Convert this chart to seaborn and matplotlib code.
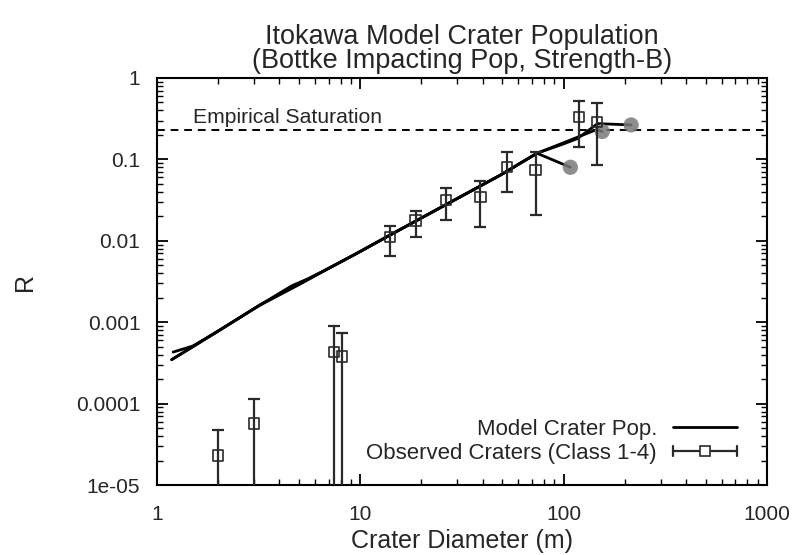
import numpy as np
import pandas as pd
import matplotlib
matplotlib.use("Agg")
import matplotlib.pyplot as plt
import seaborn as sns
from matplotlib.legend_handler import HandlerBase
from matplotlib.lines import Line2D
from matplotlib.container import ErrorbarContainer
from matplotlib.ticker import LogLocator, NullFormatter

# Observed crater counts (Class 1-4): diameter (m), R value, error-bar bounds
obs_diam = [2.0, 3.0, 7.4, 8.1, 14.0, 18.7, 26.5, 39.0, 52.8, 72.8, 119.0, 146.6]
obs_r = [2.3e-5, 5.7e-5, 4.3e-4, 3.8e-4, 0.0112, 0.0178, 0.0317, 0.0348, 0.0813, 0.074, 0.329, 0.29]
obs_r_hi = [4.8e-5, 1.15e-4, 9.0e-4, 7.4e-4, 0.0154, 0.0235, 0.044, 0.055, 0.122, 0.124, 0.526, 0.497]
obs_r_lo = [1e-6, 1e-6, 1e-6, 1e-6, 0.0066, 0.011, 0.018, 0.0149, 0.040, 0.021, 0.141, 0.085]

# Model crater population, three Monte Carlo runs
run1_diam = [1.18, 1.5, 2.0, 3.2, 5.0, 7.0, 9.6, 14, 20, 30, 49, 74, 100, 125, 144, 155]
run1_r = [3.47e-4, 5.0e-4, 7.8e-4, 1.62e-3, 2.94e-3, 4.6e-3, 7.0e-3, 0.01175, 0.0191, 0.0331,
          0.0643, 0.119, 0.160, 0.200, 0.230, 0.220]
run2_diam = [1.2, 1.5, 2.0, 3.2, 4.6, 5.5, 7.0, 9.6, 14, 20, 30, 49, 74, 108]
run2_r = [4.3e-4, 5.1e-4, 7.8e-4, 1.62e-3, 2.8e-3, 3.4e-3, 4.6e-3, 7.0e-3, 0.0118, 0.0191,
          0.0331, 0.0643, 0.119, 0.080]
run3_diam = [1.18, 1.5, 2.0, 3.2, 5.0, 7.0, 9.6, 14, 20, 30, 49, 74, 100, 117, 147, 215]
run3_r = [3.47e-4, 5.0e-4, 7.8e-4, 1.62e-3, 2.9e-3, 4.6e-3, 7.0e-3, 0.01175, 0.0191, 0.0331,
          0.0643, 0.119, 0.155, 0.180, 0.275, 0.265]

# Final state of each run
end_diam = [108, 155, 215]
end_r = [0.080, 0.220, 0.265]

saturation_r = 0.23

x_ticks = [1, 10, 100, 1000]
x_ticklabels = ["1", "10", "100", "1000"]
y_ticks = [1e-5, 1e-4, 1e-3, 1e-2, 1e-1, 1]
y_ticklabels = ["1e-05", "0.0001", "0.001", "0.01", "0.1", "1"]

model = pd.DataFrame({
    "diam": run1_diam + run2_diam + run3_diam,
    "R": run1_r + run2_r + run3_r,
    "run": [1] * len(run1_diam) + [2] * len(run2_diam) + [3] * len(run3_diam),
})
ends = pd.DataFrame({"diam": end_diam, "R": end_r})
obs = pd.DataFrame({"diam": obs_diam, "R": obs_r})

sns.set_theme(style="ticks")
plt.rcParams["font.family"] = ["Liberation Sans", "DejaVu Sans"]

fig, ax = plt.subplots(figsize=(7.93, 5.55), dpi=100)
fig.subplots_adjust(left=0.198, right=0.967, top=0.8595, bottom=0.126)

ax.set_xscale("log")
ax.set_yscale("log")

# saturation level
ax.axhline(saturation_r, color="black", lw=1.4, ls=(0, (4, 3)), zorder=1)
ax.text(1.5, 0.28, "Empirical Saturation", fontsize=15.2, ha="left", va="baseline")

sns.lineplot(data=model, x="diam", y="R", units="run", estimator=None, sort=False,
             color="black", lw=2.0, ax=ax, legend=False, zorder=3)
sns.scatterplot(data=ends, x="diam", y="R", color="#7a7a7a", s=120, edgecolor="none",
                alpha=0.85, ax=ax, legend=False, zorder=4)

yerr = np.array([np.array(obs_r) - np.array(obs_r_lo), np.array(obs_r_hi) - np.array(obs_r)])
eb = ax.errorbar(obs_diam, obs_r, yerr=yerr, fmt="none", ecolor="#2a2a2a", elinewidth=1.6,
                 capsize=4.5, capthick=1.6, zorder=5)
sns.scatterplot(data=obs, x="diam", y="R", marker="s", s=55, facecolor="none",
                edgecolor="#2a2a2a", linewidth=1.2, ax=ax, legend=False, zorder=6)

ax.set_xlim(1, 1000)
ax.set_ylim(1e-5, 1)
ax.set_xticks(x_ticks, x_ticklabels)
ax.set_yticks(y_ticks, y_ticklabels)
ax.xaxis.set_minor_locator(LogLocator(base=10, subs=np.arange(2, 10)))
ax.yaxis.set_minor_locator(LogLocator(base=10, subs=np.arange(2, 10), numticks=20))
ax.xaxis.set_minor_formatter(NullFormatter())
ax.yaxis.set_minor_formatter(NullFormatter())
ax.tick_params(which="both", direction="in", top=True, right=True, color="black")
ax.tick_params(which="major", length=8, width=1.3, labelsize=15)
ax.tick_params(axis="y", which="major", pad=12)
ax.tick_params(axis="x", which="major", pad=14)
ax.tick_params(which="minor", length=4, width=1.0)
for s in ax.spines.values():
    s.set_linewidth(1.5)
    s.set_color("black")

ax.set_xlabel("Crater Diameter (m)", fontsize=18, labelpad=4)
ax.set_ylabel("R", fontsize=18, labelpad=28)
ax.set_title("Itokawa Model Crater Population\n(Bottke Impacting Pop, Strength-B)",
             fontsize=19.5, linespacing=0.92, pad=7)


class HandlerCappedBar(HandlerBase):
    def create_artists(self, legend, orig_handle, xdescent, ydescent, width, height,
                       fontsize, trans):
        y = height / 2 - ydescent
        x0, x1 = -xdescent, width - xdescent
        cap = 0.3 * height
        arts = [
            Line2D([x0, x1], [y, y], color="#2a2a2a", lw=1.6),
            Line2D([x0, x0], [y - cap, y + cap], color="#2a2a2a", lw=1.6),
            Line2D([x1, x1], [y - cap, y + cap], color="#2a2a2a", lw=1.6),
            Line2D([(x0 + x1) / 2], [y], marker="s", ms=7, mfc="white",
                   mec="#2a2a2a", mew=1.2, ls=""),
        ]
        for a in arts:
            a.set_transform(trans)
        return arts


model_handle = Line2D([], [], color="black", lw=2.0)
ax.legend([model_handle, eb], ["Model Crater Pop.", "Observed Craters (Class 1-4)"],
          handler_map={ErrorbarContainer: HandlerCappedBar()},
          loc="lower right", bbox_to_anchor=(0.951, 0.052), frameon=False,
          markerfirst=False, fontsize=16, handlelength=2.9, handletextpad=0.7,
          labelspacing=0.12, borderpad=0, borderaxespad=0)

fig.savefig("out.png", dpi=100)
